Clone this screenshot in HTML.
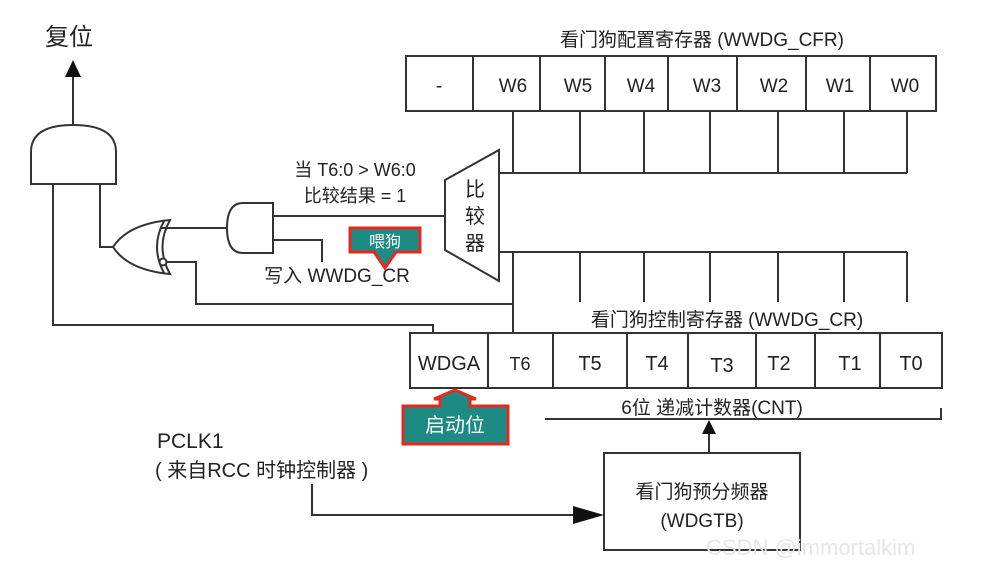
<!DOCTYPE html>
<html><head><meta charset="utf-8"><style>
body{margin:0;background:#fff}
svg{display:block}
text{font-family:"Liberation Sans","Noto Sans CJK SC",sans-serif;fill:#222}
</style></head><body>
<svg width="987" height="575" viewBox="0 0 987 575" xmlns="http://www.w3.org/2000/svg">
<g stroke="#333" stroke-width="2" fill="none">
<rect x="406" y="56" width="530" height="55"/>
<line x1="473" y1="56" x2="473" y2="111"/><line x1="540" y1="56" x2="540" y2="111"/>
<line x1="605" y1="56" x2="605" y2="111"/><line x1="668" y1="56" x2="668" y2="111"/>
<line x1="737" y1="56" x2="737" y2="111"/><line x1="806" y1="56" x2="806" y2="111"/>
<line x1="870" y1="56" x2="870" y2="111"/>
<path d="M513 111V173M580 111V173M644 111V173M710 111V173M778 111V173M844 111V173M907 111V173M499 173H907"/>
<path d="M499 252H907M513 252V333M580 252V302M644 252V302M710 252V302M778 252V302M844 252V302M907 252V302"/>
<polygon points="445,180 499,150 499,281 445,250"/>
<line x1="73" y1="76" x2="73" y2="125"/>
<path d="M31 184V152Q31 125 73 125Q116 125 116 152V184Z"/>
<path d="M53 184V325H433V333"/>
<path d="M100 184V247H113"/>
<!-- OR gate pointing left -->
<path d="M113 247Q128 224 170 220Q155 247 170 274Q128 270 113 247Z"/>
<path d="M164 221Q150 247 164 273"/>
<circle cx="163" cy="262" r="3.5" fill="#fff"/>
<path d="M167 262H196V304H513"/>
<path d="M160 228H227"/>
<path d="M273 203H243Q227 203 227 228Q227 253 243 253H273Z"/>
<path d="M273 216H445"/>
<path d="M273 240H322V262"/>
<rect x="410" y="333" width="532" height="55"/>
<path d="M488 333V388M553 333V388M627 333V388M688 333V388M756 333V388M815 333V388M880 333V388"/>
<path d="M545 419H941M941 408V420"/>
<line x1="709" y1="453" x2="709" y2="432"/>
<rect x="604" y="453" width="196" height="97"/>
<path d="M312 484V515H576"/>
</g>
<polygon points="73,60 65,77 81,77" fill="#111"/>
<polygon points="709,420 702,434 716,434" fill="#111"/>
<polygon points="604,515 573,506 573,524" fill="#111"/>

<text x="45" y="45" font-size="24">复位</text>
<text x="702" y="46" font-size="19" text-anchor="middle">看门狗配置寄存器 (WWDG_CFR)</text>
<g font-size="19" text-anchor="middle">
<text x="439" y="92">-</text><text x="513" y="92">W6</text><text x="578" y="92">W5</text>
<text x="641" y="92">W4</text><text x="707" y="92">W3</text><text x="774" y="92">W2</text>
<text x="840" y="92">W1</text><text x="905" y="92">W0</text>
</g>
<text x="355" y="176" font-size="18" text-anchor="middle">当 T6:0 &gt; W6:0</text>
<text x="355" y="202" font-size="18" text-anchor="middle">比较结果 = 1</text>
<text x="337" y="282" font-size="19" text-anchor="middle">写入 WWDG_CR</text>
<g font-size="20" text-anchor="middle"><text x="475" y="196">比</text><text x="475" y="223">较</text><text x="475" y="250">器</text></g>
<polygon points="350,228 420,228 420,252 396,252 385,268 374,252 350,252" fill="#1e8a84" stroke="#e8281e" stroke-width="3"/>
<text x="385" y="247" font-size="16" text-anchor="middle" style="fill:#fff">喂狗</text>
<text x="727" y="326" font-size="19" text-anchor="middle">看门狗控制寄存器 (WWDG_CR)</text>
<g font-size="20" text-anchor="middle">
<text x="449" y="370">WDGA</text><text x="520" y="370" font-size="18">T6</text><text x="590" y="370">T5</text>
<text x="657" y="370">T4</text><text x="722" y="372">T3</text><text x="779" y="370">T2</text>
<text x="850" y="370">T1</text><text x="911" y="370">T0</text>
</g>
<text x="712" y="414" font-size="19" text-anchor="middle">6位 递减计数器(CNT)</text>
<polygon points="403,406 440,406 440,399 434,399 455,390 476,399 470,399 470,406 508,406 508,444 403,444" fill="#1e8a84" stroke="#e8281e" stroke-width="3"/>
<text x="455" y="432" font-size="20" text-anchor="middle" style="fill:#fff">启动位</text>
<text x="157" y="448" font-size="21">PCLK1</text>
<text x="155" y="477" font-size="20">( 来自RCC 时钟控制器 )</text>
<text x="702" y="498" font-size="19" text-anchor="middle">看门狗预分频器</text>
<text x="702" y="527" font-size="19" text-anchor="middle">(WDGTB)</text>
<text x="706" y="555" font-size="22" style="fill:#e6e6e6">CSDN @immortalkim</text>
</svg>
</body></html>
